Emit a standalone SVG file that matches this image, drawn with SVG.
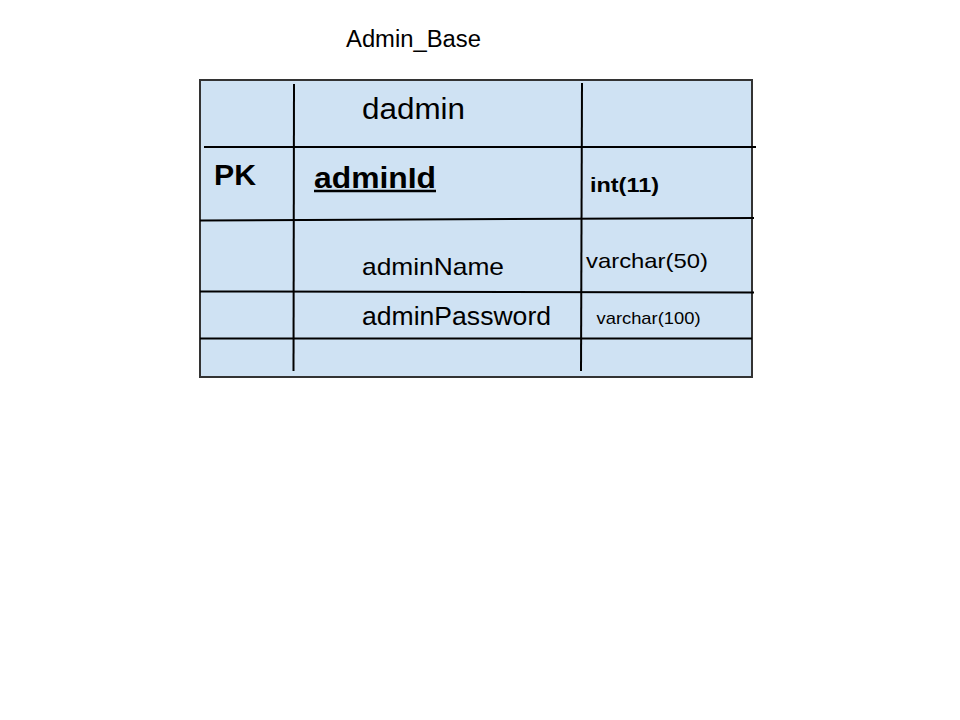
<svg xmlns="http://www.w3.org/2000/svg" width="960" height="720" viewBox="0 0 960 720">
<style>
  text { font-family: "Liberation Sans", Arial, sans-serif; fill: #000; }
  .b { font-weight: bold; }
  .grid line { stroke: #000; stroke-width: 2; stroke-linecap: butt; }
  .frame { fill: #cfe2f3; stroke: #333; stroke-width: 2; }
</style>
<rect width="960" height="720" fill="#fff"/>
<g id="title">
  <text x="346" y="47" font-size="23" textLength="135" lengthAdjust="spacingAndGlyphs">Admin_Base</text>
</g>
<g id="table-dadmin">
  <rect class="frame" x="200" y="80" width="552" height="297"/>
  <g class="grid">
    <line x1="204" y1="147" x2="756" y2="147"/>
    <line x1="200" y1="220.5" x2="754" y2="218"/>
    <line x1="200" y1="291.5" x2="754" y2="292.5"/>
    <line x1="200" y1="338.5" x2="752" y2="338.5"/>
    <line x1="294" y1="84" x2="293.5" y2="371"/>
    <line x1="582" y1="83" x2="581" y2="371"/>
  </g>
  <text x="362" y="119" font-size="30" textLength="103" lengthAdjust="spacingAndGlyphs">dadmin</text>
  <text class="b" x="214" y="185" font-size="29" textLength="42" lengthAdjust="spacingAndGlyphs">PK</text>
  <text class="b" x="314" y="188" font-size="29" textLength="122" lengthAdjust="spacingAndGlyphs">adminId</text>
  <line x1="314" y1="191" x2="436" y2="191" stroke="#000" stroke-width="2.5"/>
  <text class="b" x="590" y="192" font-size="21" textLength="69" lengthAdjust="spacingAndGlyphs">int(11)</text>
  <text x="362" y="274.5" font-size="24" textLength="142" lengthAdjust="spacingAndGlyphs">adminName</text>
  <text x="586" y="268" font-size="21" textLength="122" lengthAdjust="spacingAndGlyphs">varchar(50)</text>
  <text x="362" y="325" font-size="25" textLength="189" lengthAdjust="spacingAndGlyphs">adminPassword</text>
  <text x="596.5" y="324" font-size="17" textLength="104" lengthAdjust="spacingAndGlyphs">varchar(100)</text>
</g>
<g id="connectors"></g>
</svg>
